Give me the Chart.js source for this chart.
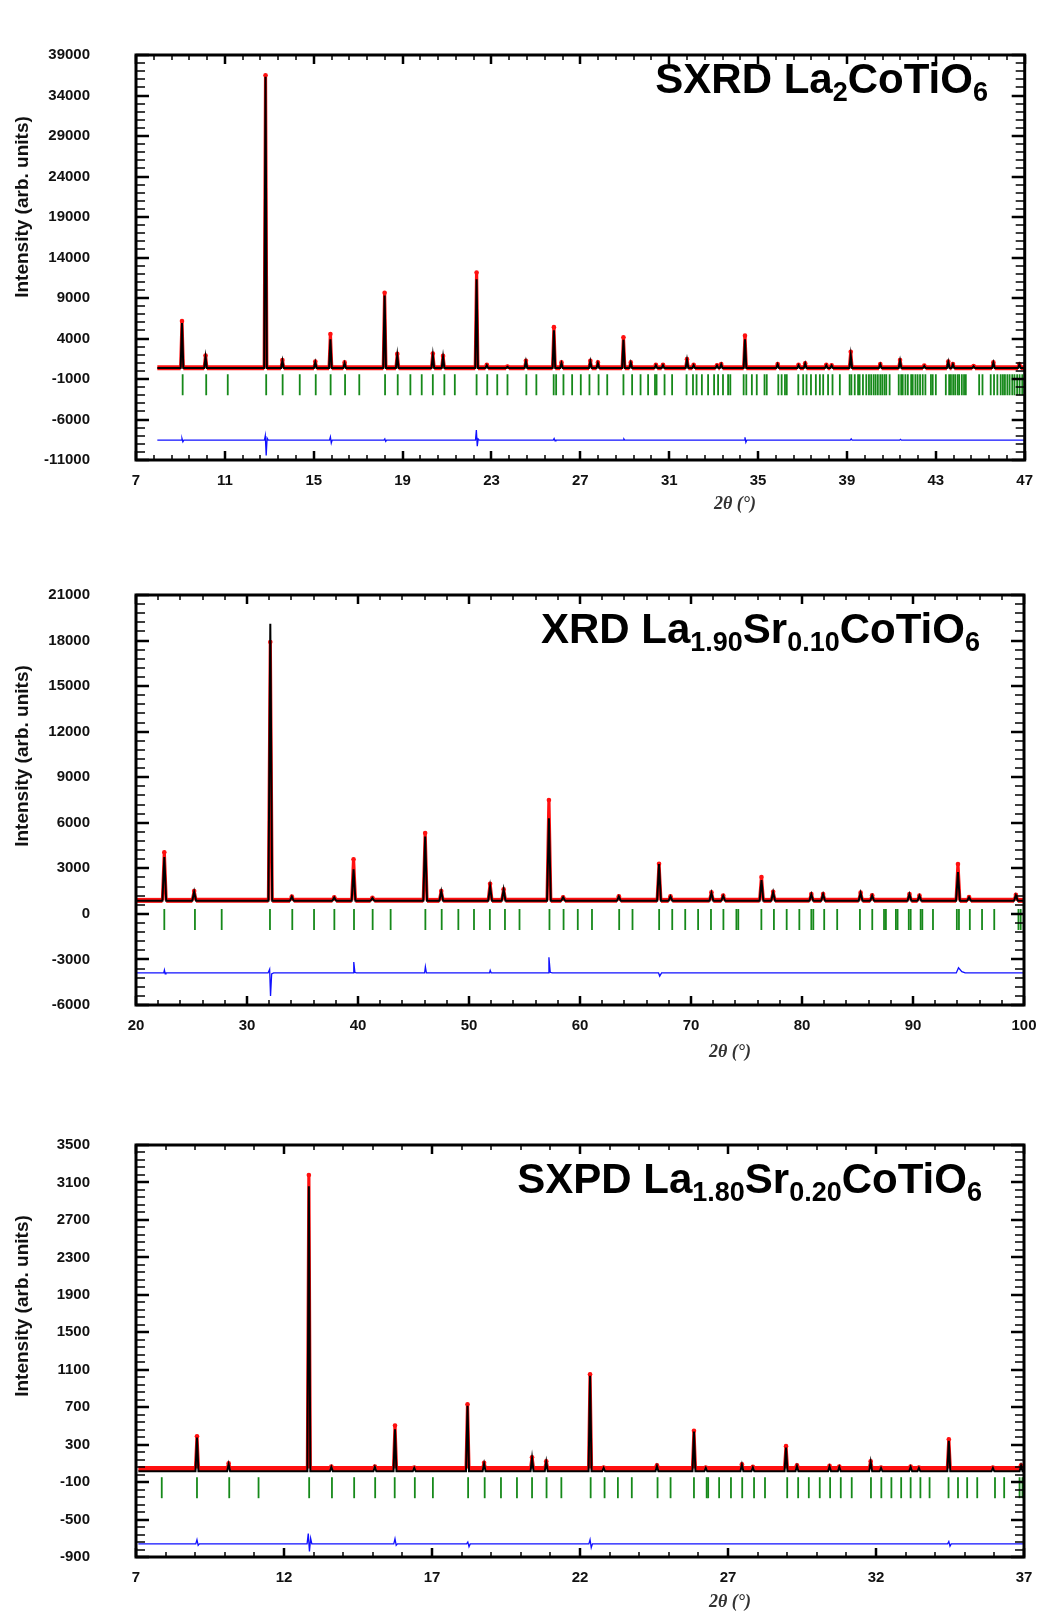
<!DOCTYPE html>
<html lang="en">
<head>
  <meta charset="UTF-8">
  <title>Rietveld refinements</title>
  <script src="https://cdn.jsdelivr.net/npm/chart.js"></script>
  <style>
    body {
      margin: 0;
      background: #fff;
      font-family: 'Liberation Sans', Arial, sans-serif;
    }
    .panel {
      position: absolute;
      left: 0;
    }
    .ttl {
      position: absolute;
      font: bold 42px 'Liberation Sans', Arial, sans-serif;
      line-height: 42px;
      white-space: nowrap;
      color: #000;
    }
    .ttl sub {
      font-size: 27px;
      vertical-align: -8px;
      line-height: 0;
    }
    .ytitle, .xtitle {
      position: absolute;
      white-space: nowrap;
      transform: translate(-50%, -50%);
    }
    .ytitle {
      font: bold 19px 'Liberation Sans', Arial, sans-serif;
      transform: translate(-50%, -50%) rotate(-90deg);
      color: #111;
    }
    .xtitle {
      font: italic bold 18px 'Liberation Serif', 'Times New Roman', serif;
      color: #333;
    }
  </style>
</head>
<body>
  <div class="panel" style="top:0px"><canvas id="sxrd" width="1037" height="520"></canvas></div>
  <div class="panel" style="top:540px"><canvas id="xrd" width="1037" height="520"></canvas></div>
  <div class="panel" style="top:1090px"><canvas id="sxpd" width="1037" height="524"></canvas></div>

  <div class="ttl" style="top:58px;right:49px">SXRD La<sub>2</sub>CoTiO<sub>6</sub></div>
  <div class="ttl" style="top:608px;right:57px">XRD La<sub>1.90</sub>Sr<sub>0.10</sub>CoTiO<sub>6</sub></div>
  <div class="ttl" style="top:1158px;right:55px">SXPD La<sub>1.80</sub>Sr<sub>0.20</sub>CoTiO<sub>6</sub></div>

  <div class="ytitle" style="left:22px;top:207px">Intensity (arb. units)</div>
  <div class="ytitle" style="left:22px;top:756px">Intensity (arb. units)</div>
  <div class="ytitle" style="left:22px;top:1306px">Intensity (arb. units)</div>

  <div class="xtitle" style="left:735px;top:503px">2θ (°)</div>
  <div class="xtitle" style="left:730px;top:1051px">2θ (°)</div>
  <div class="xtitle" style="left:730px;top:1601px">2θ (°)</div>

  <script>
    // ---- SXRD La2CoTiO6 ----
    const sxrdPeak2t = [9.07, 10.13, 12.83, 13.59, 15.07, 15.75, 16.39, 18.19, 18.76, 20.36, 20.82, 22.33, 22.79, 23.72, 24.55, 25.81, 26.15, 27.45, 27.79, 28.94, 29.27, 30.40, 30.72, 31.80, 32.10, 33.15, 33.34, 34.41, 35.88, 36.82, 37.12, 38.07, 38.31, 39.17, 40.50, 41.39, 42.48, 43.56, 43.77, 44.70, 45.59, 46.76];
    const sxrdCalcTop = [5900, 1700, 36300, 1250, 1050, 3900, 950, 9300, 1900, 1900, 1700, 11300, 700, 500, 1150, 5000, 950, 1150, 950, 3850, 1000, 700, 700, 1350, 700, 650, 800, 3900, 800, 700, 900, 700, 650, 1900, 800, 1250, 600, 1100, 800, 550, 1000, 800];
    const sxrdObsTop = [6150, 1900, 36500, 1350, 1150, 4550, 1050, 9650, 2100, 2150, 1850, 12150, 750, 550, 1250, 5400, 1050, 1250, 1050, 4150, 1050, 750, 750, 1450, 750, 700, 850, 4350, 850, 750, 950, 750, 700, 2350, 850, 1350, 650, 1150, 850, 600, 1050, 850];
    const sxrdBragg = [9.10, 10.16, 11.13, 12.86, 13.60, 14.37, 15.09, 15.76, 16.41, 17.05, 18.21, 18.78, 19.35, 19.86, 20.36, 20.88, 21.35, 22.33, 22.81, 23.26, 23.72, 24.57, 25.02, 25.80, 25.91, 26.24, 26.63, 27.02, 27.41, 27.82, 28.21, 28.94, 29.33, 29.71, 30.05, 30.36, 30.43, 30.79, 31.13, 31.78, 32.07, 32.23, 32.47, 32.75, 33.02, 33.20, 33.42, 33.65, 33.75, 34.35, 34.47, 34.72, 34.94, 35.29, 35.39, 35.91, 36.06, 36.21, 36.29, 36.81, 37.03, 37.18, 37.38, 37.60, 37.78, 37.93, 38.15, 38.35, 38.68, 39.12, 39.20, 39.35, 39.50, 39.57, 39.72, 39.87, 39.99, 40.09, 40.20, 40.29, 40.39, 40.50, 40.59, 40.69, 40.77, 40.92, 41.33, 41.44, 41.51, 41.63, 41.74, 41.89, 41.96, 42.08, 42.18, 42.29, 42.41, 42.53, 42.78, 42.86, 43.00, 43.45, 43.60, 43.68, 43.78, 43.87, 43.98, 44.05, 44.17, 44.27, 44.35, 44.95, 45.10, 45.47, 45.62, 45.77, 45.92, 46.02, 46.11, 46.22, 46.32, 46.44, 46.54, 46.66, 46.77, 46.89, 47.00];
    const sxrdDiff = [[7.96, -8550], [9.03, -8550], [9.07, -8350], [9.11, -8750], [9.15, -8550], [12.78, -8550], [12.82, -8000], [12.86, -10450], [12.90, -8300], [12.95, -8550], [15.71, -8550], [15.75, -8150], [15.79, -8900], [15.83, -8550], [18.16, -8550], [18.20, -8400], [18.24, -8700], [18.28, -8550], [22.28, -8550], [22.32, -7300], [22.36, -9300], [22.40, -8400], [22.45, -8550], [25.78, -8550], [25.82, -8350], [25.86, -8650], [25.90, -8550], [28.92, -8550], [28.96, -8400], [29.00, -8550], [34.37, -8550], [34.41, -8200], [34.45, -8800], [34.49, -8550], [39.15, -8550], [39.19, -8400], [39.23, -8550], [41.37, -8550], [41.41, -8450], [41.45, -8550], [47.00, -8550]];
    const sxrdYTicks = [-11000, -6000, -1000, 4000, 9000, 14000, 19000, 24000, 29000, 34000, 39000];
    const sxrdXTicks = [7, 11, 15, 19, 23, 27, 31, 35, 39, 43, 47];

    // ---- XRD La1.90Sr0.10CoTiO6 ----
    const xrdPeak2t = [22.55, 25.24, 32.10, 34.04, 37.86, 39.60, 41.30, 46.05, 47.50, 51.90, 53.12, 57.20, 58.48, 63.50, 67.12, 68.15, 71.84, 72.90, 76.35, 77.40, 80.84, 81.90, 85.28, 86.32, 89.68, 90.58, 94.05, 95.05, 99.27];
    const xrdCalcTop = [3750, 1450, 19100, 1130, 1080, 2930, 1040, 5090, 1480, 1800, 1600, 6300, 1090, 1140, 3280, 1140, 1380, 1180, 2230, 1420, 1290, 1290, 1370, 1200, 1290, 1190, 2750, 1090, 1220];
    const xrdObsTop = [4060, 1500, 17900, 1150, 1100, 3600, 1060, 5330, 1500, 1980, 1620, 7500, 1100, 1160, 3300, 1160, 1420, 1210, 2430, 1450, 1310, 1310, 1400, 1220, 1310, 1210, 3280, 1110, 1250];
    const xrdBragg = [22.55, 25.31, 27.72, 32.07, 34.08, 36.04, 37.87, 39.64, 41.32, 42.94, 46.07, 47.54, 49.04, 50.45, 51.88, 53.24, 54.55, 57.25, 58.52, 59.80, 61.08, 63.53, 64.73, 67.13, 68.31, 69.48, 70.64, 71.80, 72.92, 74.09, 74.26, 76.34, 77.47, 78.62, 79.76, 80.84, 81.02, 82.00, 83.17, 85.22, 86.33, 87.39, 87.56, 88.46, 88.61, 89.62, 89.79, 90.69, 90.84, 91.80, 93.95, 94.14, 95.12, 96.22, 97.32, 99.50, 99.70];
    const xrdDiff = [[20.0, -3890], [22.50, -3890], [22.56, -3700], [22.63, -3950], [22.70, -3890], [31.90, -3890], [32.04, -3650], [32.12, -5400], [32.22, -3950], [32.40, -3890], [39.55, -3890], [39.62, -3170], [39.72, -3850], [39.85, -3890], [46.00, -3890], [46.07, -3480], [46.16, -3890], [51.85, -3890], [51.91, -3720], [52.00, -3890], [57.12, -3890], [57.20, -2860], [57.32, -3850], [57.50, -3890], [67.08, -3890], [67.18, -4100], [67.35, -3890], [93.90, -3890], [94.10, -3550], [94.40, -3800], [94.70, -3890], [100.0, -3890]];
    const xrdYTicks = [-6000, -3000, 0, 3000, 6000, 9000, 12000, 15000, 18000, 21000];
    const xrdXTicks = [20, 30, 40, 50, 60, 70, 80, 90, 100];

    // ---- SXPD La1.80Sr0.20CoTiO6 ----
    const sxpdPeak2t = [9.06, 10.13, 12.84, 13.60, 15.07, 15.75, 16.40, 18.20, 18.76, 20.38, 20.86, 22.34, 22.80, 24.60, 25.85, 26.25, 27.47, 27.84, 28.96, 29.33, 30.43, 30.76, 31.82, 32.17, 33.17, 33.45, 34.46, 35.95, 36.90];
    const sxpdCalcTop = [375, 90, 3060, 60, 60, 465, 50, 715, 95, 155, 115, 1035, 50, 70, 440, 50, 85, 55, 270, 70, 65, 60, 115, 50, 60, 50, 340, 50, 75];
    const sxpdObsTop = [390, 100, 3180, 66, 66, 505, 56, 730, 106, 166, 123, 1052, 56, 80, 447, 56, 90, 63, 284, 80, 73, 66, 123, 56, 66, 56, 358, 56, 80];
    const sxpdBragg = [7.87, 9.06, 10.15, 11.14, 12.85, 13.62, 14.37, 15.08, 15.74, 16.42, 17.03, 18.22, 18.78, 19.33, 19.87, 20.38, 20.87, 21.37, 22.36, 22.83, 23.28, 23.75, 24.62, 25.06, 25.85, 26.28, 26.33, 26.70, 27.10, 27.48, 27.88, 28.25, 29.00, 29.37, 29.73, 30.10, 30.45, 30.81, 31.18, 31.83, 32.18, 32.52, 32.85, 33.17, 33.50, 33.81, 34.45, 34.77, 35.08, 35.42, 36.02, 36.33, 36.85, 36.95];
    const sxpdDiff = [[7.08, -760], [9.02, -760], [9.06, -715], [9.10, -775], [9.14, -760], [12.78, -760], [12.82, -650], [12.86, -840], [12.90, -700], [12.94, -760], [15.71, -760], [15.75, -705], [15.79, -775], [15.83, -760], [18.17, -760], [18.21, -740], [18.25, -790], [18.29, -760], [22.30, -760], [22.34, -715], [22.38, -800], [22.42, -760], [34.42, -760], [34.46, -735], [34.50, -785], [34.54, -760], [37.0, -760]];
    const sxpdYTicks = [-900, -500, -100, 300, 700, 1100, 1500, 1900, 2300, 2700, 3100, 3500];
    const sxpdXTicks = [7, 12, 17, 22, 27, 32, 37];

    Chart.defaults.font.family = "'Liberation Sans', Arial, sans-serif";

    // inward ticks on all four sides plus the box
    const frameTicks = {
      id: 'frameTicks',
      afterDatasetsDraw(chart, args, opts) {
        const { ctx, chartArea: a, scales: { x, y } } = chart;
        ctx.save();
        ctx.strokeStyle = '#000';
        const mark = (scale, step, horiz) => {
          const n = Math.round((scale.max - scale.min) / step);
          for (let i = 0; i <= n; i++) {
            const major = i % 5 === 0;
            const p = Math.round(scale.getPixelForValue(scale.min + i * step));
            ctx.lineWidth = major ? 2.5 : 1.5;
            ctx.beginPath();
            if (horiz) {
              const len = major ? 9 : 5;
              ctx.moveTo(p, a.bottom); ctx.lineTo(p, a.bottom - len);
              ctx.moveTo(p, a.top); ctx.lineTo(p, a.top + len);
            } else {
              const len = major ? 13 : 9;
              ctx.moveTo(a.left, p); ctx.lineTo(a.left + len, p);
              ctx.moveTo(a.right, p); ctx.lineTo(a.right - len, p);
            }
            ctx.stroke();
          }
        };
        mark(x, opts.xMinor, true);
        mark(y, opts.yMinor, false);
        ctx.lineWidth = 3;
        ctx.strokeRect(a.left, a.top, a.right - a.left, a.bottom - a.top);
        ctx.restore();
      }
    };

    function profile(pos, tops, base, hw, start, end) {
      const pts = [{ x: start, y: base }];
      pos.forEach((p, i) => {
        pts.push({ x: p - hw, y: base }, { x: p, y: tops[i], top: true }, { x: p + hw, y: base });
      });
      pts.push({ x: end, y: base });
      return pts;
    }

    const tickFont = { size: 15, weight: 'bold' };

    function makePanel(id, p) {
      const obsData = profile(p.peaks, p.obs, p.base + 30, p.hw, p.start, p.end);
      const calcData = profile(p.peaks, p.calc, p.base, p.hw, p.start, p.end);
      // thinner red on the peak flanks, thick noisy-looking band on the background
      const onPeak = c => obsData[c.p0DataIndex].top || obsData[c.p1DataIndex].top;

      new Chart(document.getElementById(id), {
        type: 'scatter',
        data: {
          datasets: [
            {
              label: 'Yobs',
              data: obsData,
              showLine: true,
              borderColor: '#ff1010',
              borderWidth: 5,
              borderJoinStyle: 'round',
              segment: { borderWidth: c => (onPeak(c) ? 3.2 : 5) },
              pointRadius: c => (c.raw && c.raw.top ? 2.3 : 0),
              pointBackgroundColor: '#ff1010',
              pointBorderWidth: 0,
              order: 2
            },
            {
              label: 'Ycalc',
              data: calcData,
              showLine: true,
              borderColor: '#000',
              borderWidth: 2,
              pointRadius: 0,
              order: 1
            },
            {
              label: 'Bragg',
              data: p.bragg.map(v => ({ x: v, y: p.braggLevel })),
              showLine: false,
              pointStyle: 'line',
              pointRotation: 90,
              pointRadius: 10.5,
              pointBorderColor: '#16891a',
              pointBorderWidth: 1.8,
              order: 3
            },
            {
              label: 'Yobs-Ycalc',
              data: p.diff.map(d => ({ x: d[0], y: d[1] })),
              showLine: true,
              borderColor: '#1010ff',
              borderWidth: 1.3,
              pointRadius: 0,
              order: 4
            }
          ]
        },
        options: {
          responsive: false,
          animation: false,
          events: [],
          layout: { padding: { top: p.padTop, right: p.padRight, left: 0, bottom: 0 } },
          plugins: {
            legend: { display: false },
            tooltip: { enabled: false },
            frameTicks: { xMinor: p.xMinor, yMinor: p.yMinor }
          },
          scales: {
            x: {
              type: 'linear',
              min: p.xTicks[0],
              max: p.xTicks[p.xTicks.length - 1],
              grid: { display: false, drawTicks: false },
              border: { display: false },
              ticks: {
                stepSize: p.xTicks[1] - p.xTicks[0],
                autoSkip: false,
                maxRotation: 0,
                padding: 12,
                color: '#111',
                font: tickFont,
                callback: v => String(v)
              },
              afterFit: s => { s.height = p.xAxisH; s.paddingLeft = 0; s.paddingRight = 0; }
            },
            y: {
              type: 'linear',
              min: p.yTicks[0],
              max: p.yTicks[p.yTicks.length - 1],
              grid: { display: false, drawTicks: false },
              border: { display: false },
              ticks: {
                stepSize: p.yTicks[1] - p.yTicks[0],
                autoSkip: false,
                padding: 46,
                color: '#111',
                font: tickFont,
                callback: v => String(v)
              },
              afterFit: s => { s.width = 136; }
            }
          }
        },
        plugins: [frameTicks]
      });
    }

    makePanel('sxrd', {
      peaks: sxrdPeak2t, calc: sxrdCalcTop, obs: sxrdObsTop, bragg: sxrdBragg, diff: sxrdDiff,
      base: 350, braggLevel: -1700, hw: 0.06, start: 7.96, end: 47,
      xTicks: sxrdXTicks, yTicks: sxrdYTicks, xMinor: 0.8, yMinor: 1000,
      padTop: 17, padRight: 8, xAxisH: 60
    });

    makePanel('xrd', {
      peaks: xrdPeak2t, calc: xrdCalcTop, obs: xrdObsTop, bragg: xrdBragg, diff: xrdDiff,
      base: 860, braggLevel: -370, hw: 0.17, start: 20, end: 100,
      xTicks: xrdXTicks, yTicks: xrdYTicks, xMinor: 2, yMinor: 600,
      padTop: 28, padRight: 13, xAxisH: 53
    });

    makePanel('sxpd', {
      peaks: sxpdPeak2t, calc: sxpdCalcTop, obs: sxpdObsTop, bragg: sxpdBragg, diff: sxpdDiff,
      base: 15, braggLevel: -160, hw: 0.05, start: 7.08, end: 37,
      xTicks: sxpdXTicks, yTicks: sxpdYTicks, xMinor: 1, yMinor: 80,
      padTop: 28, padRight: 13, xAxisH: 57
    });
  </script>
</body>
</html>
